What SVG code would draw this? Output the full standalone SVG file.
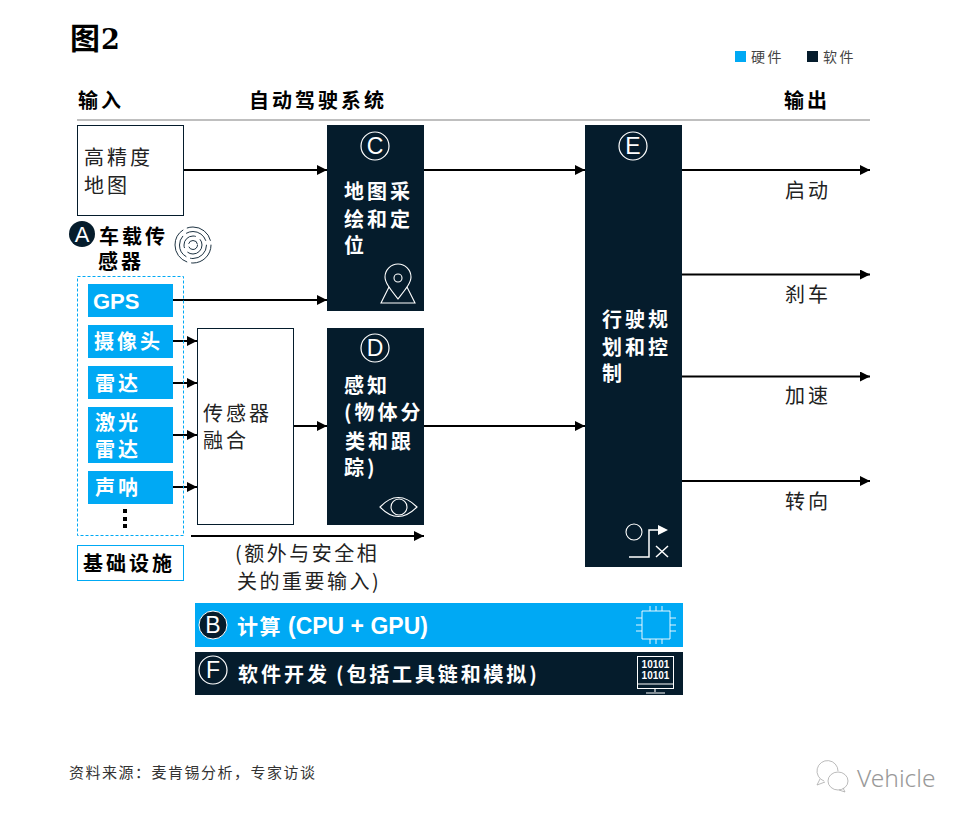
<svg xmlns="http://www.w3.org/2000/svg" width="967" height="819" viewBox="0 0 967 819">
<style>
text{font-family:"Noto Sans CJK SC","Liberation Sans",sans-serif;fill:#222}
.b{font-weight:700;fill:#000}
.w{font-weight:700;fill:#fff}
.r{font-size:20px;letter-spacing:3px}
.h{font-size:20px;letter-spacing:3px}
.bw{font-size:20px;letter-spacing:3px}
.lat{font-family:"Liberation Sans",sans-serif;font-weight:700;fill:#fff}
.circ{fill:none;stroke:#fff;stroke-width:1.2}
.ci{font-family:"Liberation Sans",sans-serif;font-size:23px;fill:#fff;text-anchor:middle}
.navy{fill:#051c2c}
.blue{fill:#00a9f4}
.ln{stroke:#000;stroke-width:2;fill:none}
.ic{fill:none;stroke:#fff;stroke-width:1.1}
</style>
<defs>
<marker id="ah" viewBox="0 0 10 10" refX="10" refY="5" markerWidth="10" markerHeight="10" markerUnits="userSpaceOnUse" orient="auto"><path d="M0 0L10 5L0 10Z" fill="#000"/></marker>
</defs>
<g id="title"><text x="70" y="49" class="b" style="font-size:30px">图</text><text x="101" y="49" class="b" style="font-family:'DejaVu Serif',serif;font-size:27px">2</text></g>
<g id="legend">
<rect x="735" y="51" width="11" height="11" class="blue"/><text x="751" y="62" style="font-size:14px;letter-spacing:2.500px;fill:#444">硬件</text>
<rect x="807" y="51" width="11" height="11" class="navy"/><text x="823" y="62" style="font-size:14px;letter-spacing:2.500px;fill:#444">软件</text>
</g>
<g id="headers">
<text x="78" y="108" class="b h">输入</text>
<text x="249" y="108" class="b h" style="letter-spacing:3px">自动驾驶系统</text>
<text x="784" y="108" class="b h">输出</text>
<line x1="77" y1="120" x2="870" y2="120" stroke="#aaa" stroke-width="1.5"/>
</g>
<g id="connectors">
<path class="ln" marker-end="url(#ah)" d="M184 170H327"/>
<path class="ln" marker-end="url(#ah)" d="M173 300H327"/>
<path class="ln" marker-end="url(#ah)" d="M173 341H197"/>
<path class="ln" marker-end="url(#ah)" d="M173 383H197"/>
<path class="ln" marker-end="url(#ah)" d="M173 435H197"/>
<path class="ln" marker-end="url(#ah)" d="M173 487H197"/>
<path class="ln" marker-end="url(#ah)" d="M293 426H327"/>
<path class="ln" marker-end="url(#ah)" d="M424 170H585"/>
<path class="ln" marker-end="url(#ah)" d="M424 426H585"/>
<path class="ln" marker-end="url(#ah)" d="M191 536H424"/>
<path class="ln" marker-end="url(#ah)" d="M682 170H870"/>
<path class="ln" marker-end="url(#ah)" d="M682 274.500H870"/>
<path class="ln" marker-end="url(#ah)" d="M682 376.500H870"/>
<path class="ln" marker-end="url(#ah)" d="M682 481H870"/>
</g>
<g id="node-hdmap">
<rect x="77.500" y="125.500" width="106" height="90" fill="#fff" stroke="#051c2c"/>
<text x="84" y="165" class="r">高精度</text><text x="84" y="193" class="r">地图</text>
</g>
<g id="node-a">
<circle cx="82" cy="234" r="13" class="navy"/>
<text x="82" y="242" class="ci" style="font-size:22px">A</text>
<text x="99" y="244" class="b bw">车载传</text><text x="98" y="269" class="b bw">感器</text>
<g fill="none" stroke="#051c2c" stroke-width="0.9">
<circle cx="193" cy="245" r="18" stroke-dasharray="30 4 40 4"/>
<circle cx="193" cy="245" r="13.500" stroke-dasharray="24 4"/>
<circle cx="193" cy="245" r="9" stroke-dasharray="20 5"/>
<circle cx="193" cy="245" r="4.500" stroke-dasharray="12 3"/>
</g>
</g>
<g id="node-sensors">
<rect x="77.500" y="276.500" width="106" height="259" fill="none" stroke="#00a9f4" stroke-dasharray="3 2"/>
<rect x="88" y="284" width="85" height="33" class="blue"/><text x="93" y="309" class="lat" style="font-size:22px">GPS</text>
<rect x="88" y="325" width="85" height="33" class="blue"/><text x="94" y="349" class="w bw" style="letter-spacing:3px">摄像头</text>
<rect x="88" y="366" width="85" height="33" class="blue"/><text x="95" y="391" class="w bw">雷达</text>
<rect x="88" y="407" width="85" height="56" class="blue"/><text x="95" y="430" class="w bw">激光</text><text x="95" y="457" class="w bw">雷达</text>
<rect x="88" y="471" width="85" height="33" class="blue"/><text x="95" y="495" class="w bw">声呐</text>
<g fill="#000"><rect x="123" y="509" width="4" height="4"/><rect x="123" y="517" width="4" height="4"/><rect x="123" y="524" width="4" height="4"/></g>
</g>
<g id="node-infra">
<rect x="77.500" y="545.500" width="106" height="35" fill="#fff" stroke="#00a9f4"/>
<text x="83" y="571" class="b bw">基础设施</text>
</g>
<g id="node-c">
<rect x="327" y="125" width="97" height="186" class="navy"/>
<circle cx="375" cy="146" r="14" class="circ"/><text x="375" y="154" class="ci">C</text>
<text x="344" y="199" class="w bw">地图采</text><text x="344" y="227" class="w bw">绘和定</text><text x="344" y="253" class="w bw">位</text>
<path class="ic" d="M398 299C391 290 385 283 385 277A12.500 12.500 0 0 1 411 277C411 283 405 290 398 299Z"/>
<circle cx="398" cy="278" r="4" class="ic"/>
<path class="ic" d="M389 287L381 303H415L407 287"/>
</g>
<g id="node-fusion">
<rect x="197.500" y="328.500" width="96" height="196" fill="#fff" stroke="#051c2c"/>
<text x="203" y="421" class="r">传感器</text><text x="203" y="448" class="r">融合</text>
</g>
<g id="node-d">
<rect x="327" y="328" width="97" height="197" class="navy"/>
<circle cx="375" cy="348" r="14" class="circ"/><text x="375" y="356" class="ci">D</text>
<text x="344" y="393" class="w bw">感知</text><text x="344" y="420" class="w bw">(物体分</text><text x="345" y="449" class="w bw">类和跟</text><text x="344" y="475" class="w bw">踪)</text>
<path class="ic" d="M380 507Q398 488 417 507Q398 526 380 507Z"/><circle cx="399" cy="507" r="8" class="ic"/>
</g>
<g id="node-extra">
<text x="235" y="561" class="r" style="letter-spacing:2.500px">(额外与安全相</text><text x="237" y="589" class="r" style="letter-spacing:2.500px">关的重要输入)</text>
</g>
<g id="node-e">
<rect x="585" y="125" width="97" height="442" class="navy"/>
<circle cx="633" cy="146" r="14" class="circ"/><text x="633" y="154" class="ci">E</text>
<text x="602" y="327" class="w bw">行驶规</text><text x="602" y="355" class="w bw">划和控</text><text x="602" y="381" class="w bw">制</text>
<circle cx="634" cy="532" r="8" class="ic"/>
<path class="ic" style="stroke-width:1.500" d="M629 557H649V530H660"/>
<path d="M658 525L668 530L658 535Z" fill="#fff"/>
<path class="ic" style="stroke-width:1.500" d="M656 546L668 557M668 546L656 557"/>
</g>
<g id="outputs">
<text x="785" y="198" class="r">启动</text>
<text x="785" y="302" class="r">刹车</text>
<text x="785" y="403" class="r">加速</text>
<text x="785" y="509" class="r">转向</text>
</g>
<g id="node-b">
<rect x="195" y="603" width="488" height="44" class="blue"/>
<circle cx="213" cy="625" r="14" fill="#051c2c" stroke="#fff" stroke-width="1"/><text x="213" y="633" class="ci">B</text>
<text x="237" y="634" class="w bw" style="font-size:21px;letter-spacing:1.500px">计算</text><text x="288" y="634" class="lat" style="font-size:23px">(CPU + GPU)</text>
<path class="ic" style="stroke-width:0.900" d="M642 611H670V639H642ZM650 611V606M656 611V606M662 611V606M650 639V644M656 639V644M662 639V644M642 618H636M642 625H636M642 631H636M670 618H676M670 625H676M670 631H676"/>
</g>
<g id="node-f">
<rect x="195" y="652" width="488" height="43" class="navy"/>
<circle cx="213" cy="670" r="14" class="circ"/><text x="213" y="678" class="ci">F</text>
<text x="238" y="682" class="w bw">软件开发</text><text x="336" y="682" class="w bw" style="letter-spacing:2.850px">(包括工具链和模拟)</text>
<rect x="637.500" y="656.500" width="36" height="32" fill="none" stroke="#fff"/><path d="M637 684H674M655 689V692M646 693H665" class="ic"/>
<text x="655.500" y="668" style="font-family:'Liberation Sans',sans-serif;font-size:10px;font-weight:700;fill:#fff;text-anchor:middle">10101</text>
<text x="655.500" y="679" style="font-family:'Liberation Sans',sans-serif;font-size:10px;font-weight:700;fill:#fff;text-anchor:middle">10101</text>
</g>
<g id="source"><text x="69" y="778" style="font-size:15px;letter-spacing:1.500px;fill:#333">资料来源：麦肯锡分析，专家访谈</text></g>
<g id="watermark" fill="none" stroke="#aaa" stroke-width="0.8">
<path d="M824 781A10.500 10.500 0 1 1 838 771M820 779L817 785L825 782"/>
<ellipse cx="838" cy="781" rx="10" ry="9"/><path d="M843 788L845 792L839 790"/>
<text x="857" y="787" style="font-family:'Noto Sans','Liberation Sans',sans-serif;font-size:24.500px;font-weight:300;fill:#999;stroke:none">Vehicle</text>
</g>
</svg>
